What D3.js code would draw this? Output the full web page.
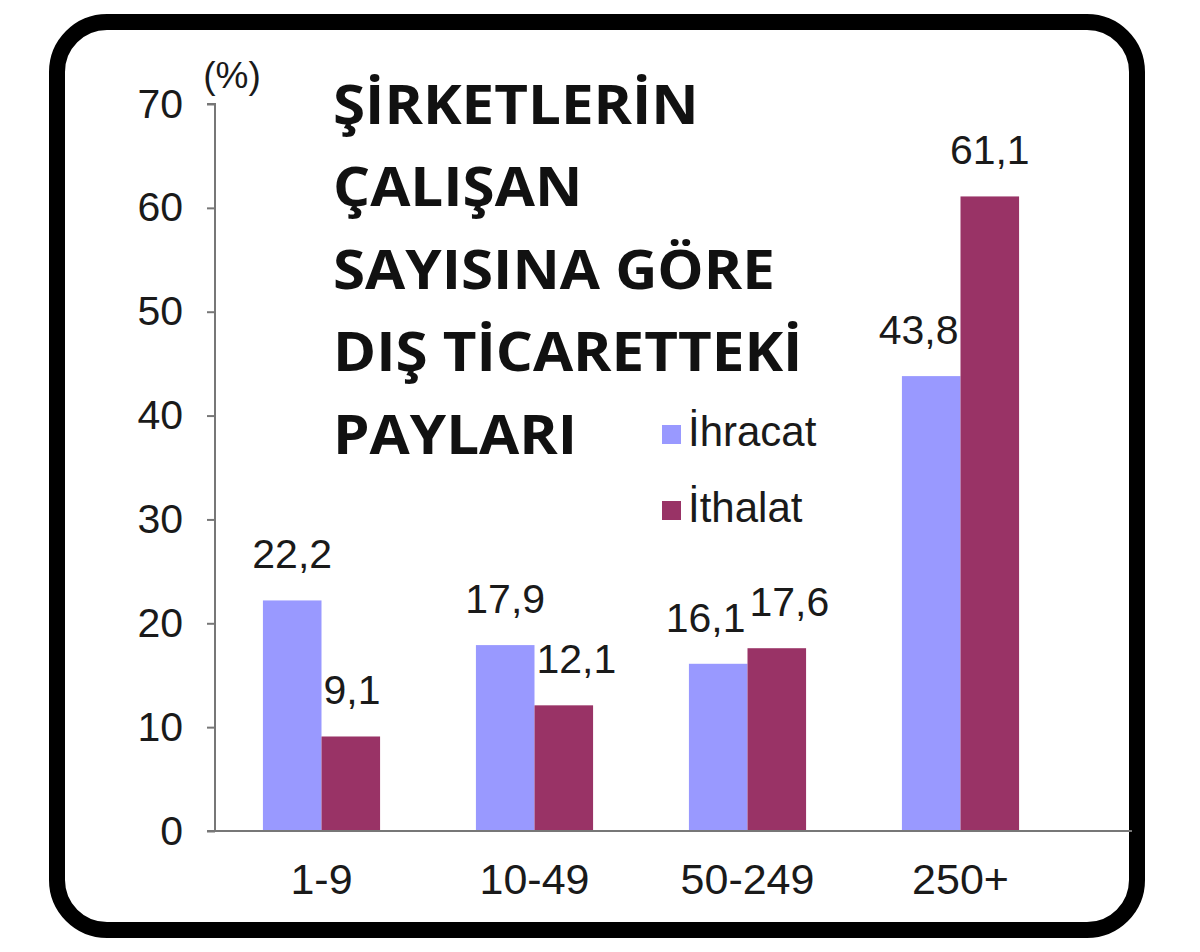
<!DOCTYPE html>
<html>
<head>
<meta charset="utf-8">
<script src="https://cdn.jsdelivr.net/npm/d3@7"></script>
<style>
  html, body { margin: 0; padding: 0; background: #fff; }
  svg { display: block; }
  .num { font-family: 'Liberation Sans', Arial, sans-serif; fill: #1a1a1a; }
  .title { font-family: 'Open Sans', sans-serif; font-weight: 700; fill: #111; }
</style>
</head>
<body>
<svg id="chart"></svg>
<script>
const categories = ['1-9', '10-49', '50-249', '250+'];
const seriesNames = ['İhracat', 'İthalat'];
const ihracat = [22.2, 17.9, 16.1, 43.8];
const ithalat = [9.1, 12.1, 17.6, 61.1];
const yTicks = [0, 10, 20, 30, 40, 50, 60, 70];
const titleLines = ['ŞİRKETLERİN', 'ÇALIŞAN', 'SAYISINA GÖRE', 'DIŞ TİCARETTEKİ', 'PAYLARI'];
const colors = ['#9999ff', '#993366'];

const width = 1200;
const height = 952;

const svg = d3.select('#chart')
  .attr('width', width)
  .attr('height', height);

// rounded frame
svg.append('rect')
  .attr('x', 57).attr('y', 22)
  .attr('width', 1080).attr('height', 908)
  .attr('rx', 50).attr('ry', 50)
  .attr('fill', '#fff')
  .attr('stroke', '#000')
  .attr('stroke-width', 16);

const x = d3.scaleBand().domain(categories).range([215, 1067]).paddingInner(0.45).paddingOuter(0.225);
const xSub = d3.scaleBand().domain(seriesNames).range([0, x.bandwidth()]);
const y = d3.scaleLinear().domain([0, 70]).range([831, 104]);

const bars = [];
categories.forEach((c, i) => {
  [ihracat[i], ithalat[i]].forEach((v, j) => {
    bars.push({ cat: c, i, j, key: seriesNames[j], v, x0: x(c) + xSub(seriesNames[j]), w: xSub.bandwidth() });
  });
});

// y axis
const yAxis = svg.append('g')
  .attr('transform', 'translate(215,0)')
  .call(d3.axisLeft(y).tickValues(yTicks).tickSize(8).tickPadding(24).tickFormat(d3.format('d')));
yAxis.select('.domain').attr('stroke', '#777').attr('stroke-width', 2).attr('d', `M-8,${y(70)}H0V${y(0)}`);
yAxis.selectAll('.tick line').attr('stroke', '#777').attr('stroke-width', 2);
yAxis.selectAll('.tick text').attr('class', 'num').style('font-size', '41px').attr('fill', '#1a1a1a');

svg.append('text').attr('class', 'num')
  .attr('x', 232).attr('y', 88)
  .attr('text-anchor', 'middle')
  .style('font-size', '37px')
  .text('(%)');

// bars
svg.append('g').selectAll('rect')
  .data(bars)
  .join('rect')
  .attr('x', d => d.x0)
  .attr('y', d => y(d.v))
  .attr('width', d => d.w)
  .attr('height', d => y(0) - y(d.v))
  .attr('fill', d => colors[d.j]);

// value labels, nudged sideways where they would hit a taller neighbour bar or each other
const capH = 30, gap = 2;
const labels = svg.append('g').selectAll('text')
  .data(bars)
  .join('text')
  .attr('class', 'num')
  .attr('text-anchor', 'middle')
  .style('font-size', '41px')
  .attr('y', d => y(d.v) - 32)
  .text(d => d3.format('.1f')(d.v).replace('.', ','));

labels.each(function (d) {
  d.lw = this.getComputedTextLength();
  d.cx = d.x0 + d.w / 2;
  d.base = y(d.v) - 32;
});
bars.forEach(d => {
  bars.filter(b => b.cat === d.cat && b !== d && y(b.v) < d.base).forEach(b => {
    if (b.x0 > d.x0) d.cx = Math.min(d.cx, b.x0 - gap - d.lw / 2);
    else d.cx = Math.max(d.cx, b.x0 + b.w + gap + d.lw / 2);
  });
});
categories.forEach(c => {
  const [a, b] = bars.filter(d => d.cat === c);
  const overlapX = (a.cx + a.lw / 2) - (b.cx - b.lw / 2);
  const overlapY = Math.abs(a.base - b.base) < capH;
  if (overlapX > -gap && overlapY) {
    a.cx -= overlapX / 2 + gap;
    b.cx += overlapX / 2 + gap;
  }
});
labels.attr('x', d => d.cx);

// x axis
const xAxis = svg.append('g')
  .attr('transform', `translate(0,${y(0)})`)
  .call(d3.axisBottom(x).tickSize(0).tickPadding(32));
xAxis.select('.domain').attr('stroke', '#777').attr('stroke-width', 2).attr('d', 'M207,0H1132');
xAxis.selectAll('.tick text').attr('class', 'num').style('font-size', '43px').attr('fill', '#1a1a1a');

// title
svg.append('text')
  .attr('class', 'title')
  .attr('transform', 'translate(333,0) scale(1.1,1)')
  .style('font-size', '53px')
  .selectAll('tspan')
  .data(titleLines)
  .join('tspan')
  .attr('x', 0)
  .attr('y', (d, i) => 124 + i * 82.5)
  .text(d => d);

// legend
const legend = svg.append('g').selectAll('g')
  .data(seriesNames)
  .join('g')
  .attr('transform', (d, i) => `translate(662,${425 + i * 76})`);
legend.append('rect')
  .attr('width', 19).attr('height', 19)
  .attr('fill', (d, i) => colors[i]);
legend.append('text')
  .attr('class', 'num')
  .attr('x', 26).attr('y', 21)
  .style('font-size', '42px')
  .text(d => d);
</script>
</body>
</html>
